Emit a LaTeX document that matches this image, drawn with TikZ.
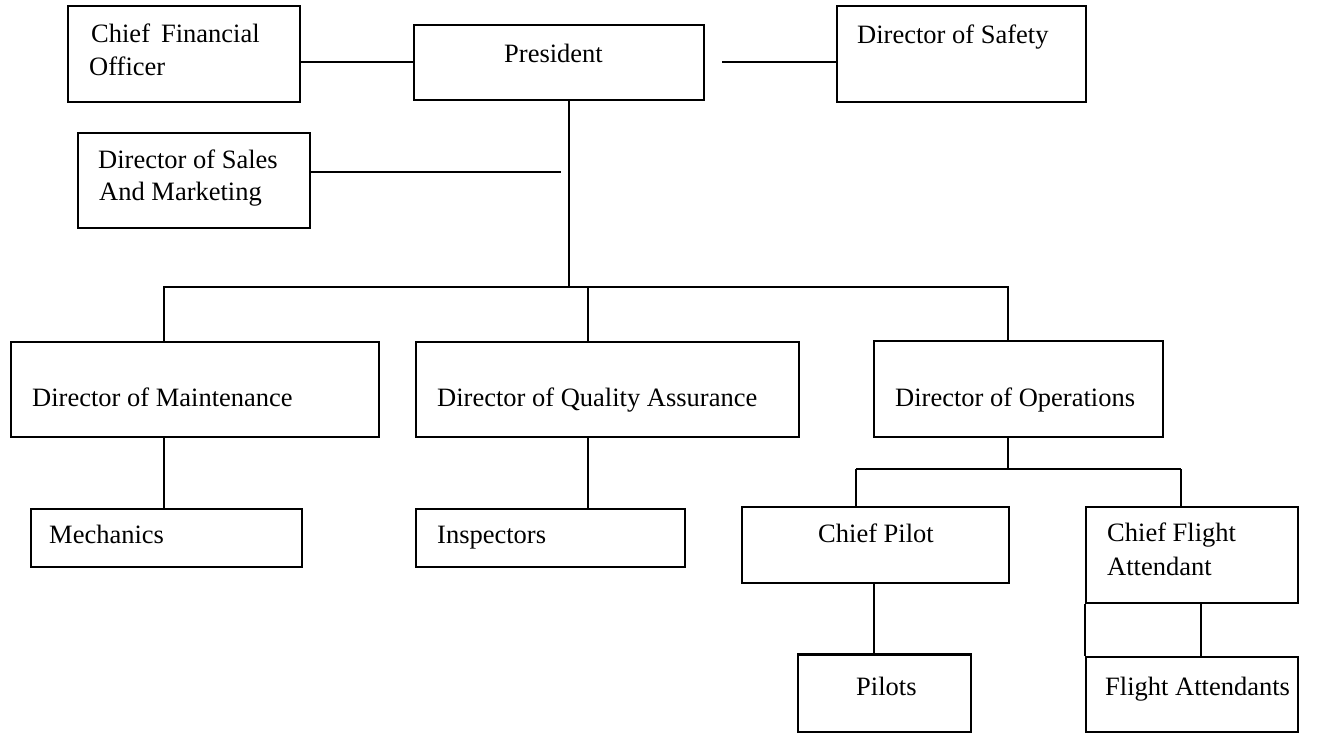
\documentclass[tikz,border=0pt]{standalone}
\usepackage{fontspec}
\setmainfont{Liberation Serif}
\usetikzlibrary{fit}
\begin{document}
\begin{tikzpicture}[x=1pt,y=-1pt,
  box/.style={draw=black, line width=1.8pt, inner sep=0pt, rectangle},
  txt/.style={anchor=base west, inner sep=0pt, font=\fontsize{26.5}{34}\selectfont, align=left},
  conn/.style={draw=black, line width=1.5pt},
  thick conn/.style={draw=black, line width=2.6pt}]
\useasboundingbox (0,0) rectangle (1324,734);
\fill[white] (0,0) rectangle (1324,734);
% boxes
\node[box, fit={(68,6) (300,102)}] (cfo) {};
\node[box, fit={(414,25) (704,100)}] (pres) {};
\node[box, fit={(837,6) (1086,102)}] (safety) {};
\node[box, fit={(78,133) (310,228)}] (sales) {};
\node[box, fit={(11,342) (379,437)}] (maint) {};
\node[box, fit={(416,342) (799,437)}] (qa) {};
\node[box, fit={(874,341) (1163,437)}] (ops) {};
\node[box, fit={(31,509) (302,567)}] (mech) {};
\node[box, fit={(416,509) (685,567)}] (insp) {};
\node[box, fit={(742,507) (1009,583)}] (cpilot) {};
\node[box, fit={(1086,507) (1298,603)}] (cfa) {};
\node[box, fit={(798,655) (971,732)}] (pilots) {};
\node[box, fit={(1086,657) (1298,732)}] (fa) {};
% texts
\node[txt] at (91,42) {Chief\, Financial};
\node[txt] at (89,75) {Officer};
\node[txt] at (504,62) {President};
\node[txt] at (857,43) {Director of Safety};
\node[txt] at (98,168) {Director of Sales};
\node[txt] at (99,200) {And Marketing};
\node[txt] at (32,406) {Director of Maintenance};
\node[txt] at (437,406) {Director of Quality Assurance};
\node[txt] at (895,406) {Director of Operations};
\node[txt] at (49,543) {Mechanics};
\node[txt] at (437,543) {Inspectors};
\node[txt] at (818,542) {Chief Pilot};
\node[txt] at (1107,541) {Chief Flight};
\node[txt] at (1107,575) {Attendant};
\node[txt] at (856,695) {Pilots};
\node[txt] at (1105,695) {Flight Attendants};
% coordinates
\coordinate (safetyend) at (722,62);
\coordinate (salesend) at (561,172);
\coordinate (presbus) at (569,287);
\coordinate (opsbus) at (1008,469);
% connectors
\draw[thick conn] (cfo.east |- 0,62) -- (pres.west |- 0,62);
\draw[conn] (safetyend) -- (safety.west |- safetyend);
\draw[conn] (sales.east |- salesend) -- (salesend);
\draw[conn] (pres.south -| presbus) -- (presbus);
\draw[conn] (maint.north -| 164,0) -- (164,287) -- (1008,287) -- (ops.north -| 1008,0);
\draw[conn] (qa.north -| 588,0) -- (588,287);
\draw[conn] (maint.south -| 164,0) -- (mech.north -| 164,0);
\draw[conn] (qa.south -| 588,0) -- (insp.north -| 588,0);
\draw[conn] (ops.south -| opsbus) -- (opsbus);
\draw[thick conn] (856,469) -- (1181,469);
\draw[conn, line width=2pt] (856,469) -- (cpilot.north -| 856,0);
\draw[conn, line width=2pt] (1181,469) -- (cfa.north -| 1181,0);
\draw[conn] (cpilot.south -| 874,0) -- (pilots.north -| 874,0);
\draw[conn] (cfa.south -| 1201,0) -- (fa.north -| 1201,0);
\draw[box] (cfa.south west) -- (fa.north west);
\draw[draw=black, line width=3pt] (pilots.north west) -- (pilots.north east);
\end{tikzpicture}
\end{document}
